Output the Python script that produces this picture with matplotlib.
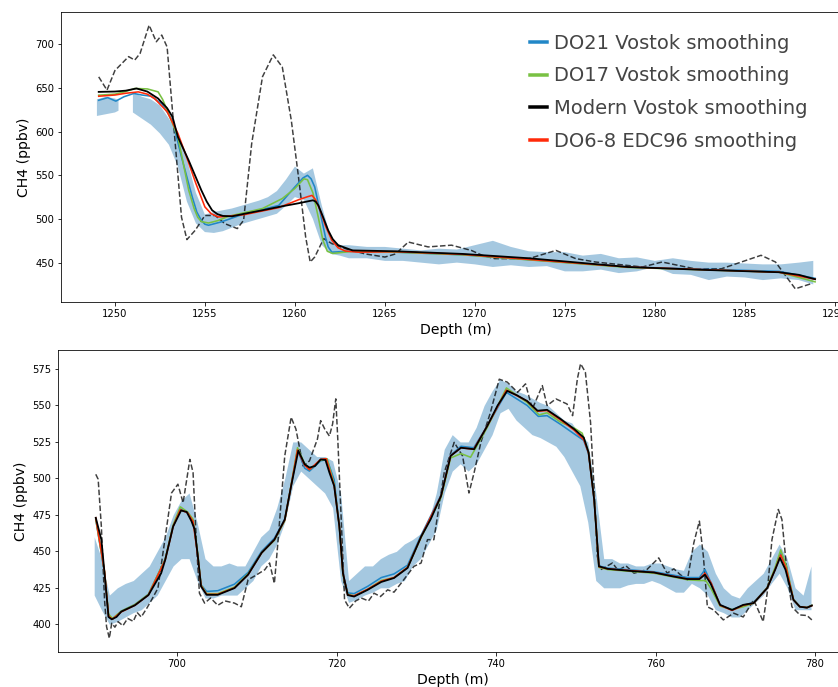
import numpy as np
import matplotlib.pyplot as plt

# ---------------- top panel (deep section) ----------------
top_raw_d = [1249.0, 1249.5, 1250.0, 1250.2, 1250.5, 1251.0, 1251.5, 1252.0, 1252.5, 1253.0,
             1253.5, 1254.0, 1254.5, 1255.0, 1255.5, 1256.0, 1256.5, 1257.0, 1257.5, 1258.0,
             1258.5, 1259.0, 1259.5, 1260.0, 1260.5, 1261.0, 1261.5, 1262.0, 1262.5, 1263.0,
             1264.0, 1265.0, 1266.0, 1267.0, 1268.0, 1269.0, 1270.0, 1271.0, 1272.0, 1273.0,
             1274.0, 1275.0, 1276.0, 1277.0, 1278.0, 1279.0, 1280.0, 1281.0, 1282.0, 1283.0,
             1284.0, 1285.0, 1286.0, 1287.0, 1288.0, 1288.8]
top_raw_lo = [618, 620, 622, 624, np.nan, 622, 615, 608, 598, 585,
              560, 520, 495, 485, 484, 486, 490, 494, 497, 500,
              503, 506, 515, 525, 522, 500, 470, 460, 458, 455,
              455, 452, 452, 450, 448, 450, 448, 445, 447, 445,
              446, 440, 440, 442, 438, 440, 445, 437, 436, 430,
              434, 433, 430, 432, 430, 425]
top_raw_hi = [637, 640, 638, 636, np.nan, 645, 640, 637, 630, 615,
              598, 568, 530, 505, 508, 510, 512, 515, 518, 521,
              525, 532, 545, 560, 552, 558, 515, 478, 470, 470,
              468, 468, 466, 464, 466, 465, 470, 475, 468, 463,
              462, 462, 458, 460, 455, 456, 452, 455, 452, 450,
              450, 449, 448, 448, 450, 452]

top_dash_d = [1249.1, 1249.56, 1250.0, 1250.76, 1251.1, 1251.4, 1251.9, 1252.3, 1252.6, 1252.9,
              1253.35, 1253.7, 1254.0, 1254.46, 1255.0, 1255.57, 1256.1, 1256.8, 1257.15, 1257.6,
              1258.2, 1258.8, 1259.3, 1259.8, 1260.2, 1260.6, 1260.85, 1261.1, 1261.6, 1262.05,
              1262.8, 1263.9, 1265.0, 1265.6, 1266.3, 1267.4, 1268.7, 1269.8, 1270.4, 1271.1,
              1273.0, 1274.5, 1275.6, 1276.7, 1279.3, 1280.4, 1282.2, 1283.7, 1285.9, 1286.7,
              1287.8, 1288.7]
top_dash_v = [662.8, 647.6, 670, 686, 682, 689.7, 722, 703, 710.7, 697,
              586.8, 502, 476.4, 487, 504, 504, 494.7, 489, 498.5, 586.5,
              663, 688, 674, 613, 548, 479, 450.7, 456.4, 477.5, 471.8,
              466, 460, 456.4, 460, 473.6, 468, 470, 464, 458.4, 454.6,
              454.6, 464, 454.6, 450.7, 445, 450.7, 443, 443, 458.4, 450.7,
              420, 426]

top_blue_d = [1249.1, 1249.6, 1250.05, 1250.5, 1251.05, 1251.5, 1252.0, 1252.6, 1253.2, 1253.7,
              1254.3, 1254.55, 1254.8, 1255.0, 1255.2, 1255.9, 1257.2, 1259.1, 1260.0, 1260.45,
              1260.7, 1260.9, 1261.1, 1261.4, 1261.7, 1261.85, 1262.05, 1263.0, 1265.6, 1269.3,
              1278.5, 1286.9, 1288.9]
top_blue_v = [636, 639, 635, 640, 643.8, 642, 640.7, 632, 613, 571,
              525, 508, 498.5, 494, 492.8, 496.6, 506, 515.5, 536.7, 547,
              550, 546, 536.7, 508, 479, 468, 462, 463, 462, 459,
              445, 440, 432]

top_green_d = [1249.1, 1250.0, 1250.6, 1251.1, 1251.8, 1252.4, 1252.65, 1252.9, 1253.5, 1254.1,
               1254.4, 1254.6, 1254.8, 1255.2, 1255.7, 1256.3, 1258.2, 1259.3, 1260.0, 1260.5,
               1260.7, 1261.0, 1261.3, 1261.55, 1261.8, 1262.1, 1263.2, 1265.6, 1269.3, 1278.5,
               1286.9, 1288.9]
top_green_v = [641.8, 643, 646, 649.5, 649, 645.6, 637, 624.7, 594, 533,
               512, 502, 497, 495.4, 498, 503, 512, 523.4, 535, 546,
               545, 530, 502, 476, 463, 460.5, 463, 462, 459, 444.5,
               439, 428]

top_red_d = [1249.1, 1250.0, 1250.6, 1251.3, 1251.8, 1252.2, 1252.9, 1253.5, 1254.0, 1254.5,
             1255.0, 1255.35, 1255.75, 1257.2, 1259.1, 1260.2, 1260.7, 1260.95, 1261.15, 1261.4,
             1261.7, 1262.05, 1262.4, 1262.8, 1263.5, 1265.6, 1269.3, 1278.5, 1286.9, 1288.9]
top_red_v = [640.6, 642, 644, 645.6, 643, 638, 623, 598, 570, 540.6,
             513.8, 506, 502.3, 505, 513, 522, 525.5, 527, 522, 510,
             492, 475.6, 467, 463.3, 462, 462.5, 459.5, 445, 439, 431]

top_black_d = [1249.1, 1250.0, 1250.6, 1251.2, 1251.8, 1252.4, 1252.9, 1253.2, 1253.5, 1254.1,
               1254.8, 1255.1, 1255.4, 1255.7, 1256.0, 1256.5, 1257.2, 1258.2, 1259.1, 1260.2,
               1261.0, 1261.15, 1261.3, 1261.55, 1261.85, 1262.1, 1262.4, 1263.2, 1265.6, 1269.3,
               1273.0, 1278.5, 1283.0, 1286.9, 1288.0, 1288.9]
top_black_v = [645.6, 646, 647, 649.5, 646, 638, 627, 617, 594, 567,
               533, 520, 510, 505.5, 503.5, 503, 506, 510, 513.8, 518,
               521.4, 520, 515.7, 503, 487, 477, 470, 464, 463, 460,
               455, 445, 441.5, 439, 436, 431]

# ---------------- bottom panel (shallow section) ----------------
bot_raw_d = [689.6, 690.5, 691.5, 692.5, 693.5, 694.5, 695.5, 696.5, 697.5, 698.5,
             699.5, 700.5, 701.5, 702.5, 703.5, 704.5, 705.5, 706.5, 707.5, 708.5,
             709.5, 710.5, 711.5, 712.5, 713.5, 714.5, 715.5, 716.5, 717.5, 718.5,
             719.5, 720.5, 721.5, 722.5, 723.5, 724.5, 725.5, 726.5, 727.5, 728.5,
             729.5, 730.5, 731.5, 732.5, 733.5, 734.5, 735.5, 736.5, 737.5, 738.5,
             739.5, 740.5, 741.5, 742.5, 743.5, 744.5, 745.5, 746.5, 747.5, 748.5,
             749.5, 750.5, 751.5, 752.5, 753.5, 754.5, 755.5, 756.5, 757.5, 758.5,
             759.5, 760.5, 761.5, 762.5, 763.5, 764.5, 765.5, 766.5, 767.5, 768.5,
             769.5, 770.5, 771.5, 772.5, 773.5, 774.5, 775.5, 776.5, 777.5, 778.5,
             779.5]
bot_raw_lo = [420, 410, 400, 402, 405, 408, 410, 415, 420, 430,
              440, 445, 445, 430, 418, 418, 420, 420, 420, 425,
              430, 440, 445, 455, 470, 495, 505, 500, 495, 490,
              480, 430, 415, 417, 420, 422, 425, 425, 428, 430,
              440, 445, 455, 465, 490, 505, 510, 505, 510, 520,
              530, 545, 548, 540, 535, 530, 528, 525, 522, 515,
              505, 495, 470, 430, 425, 425, 425, 427, 428, 428,
              430, 428, 425, 422, 422, 428, 425, 420, 410, 408,
              405, 405, 410, 415, 420, 428, 435, 425, 410, 410,
              410]
bot_raw_hi = [460, 445, 420, 425, 428, 430, 435, 440, 450, 460,
              475, 485, 490, 470, 445, 440, 440, 442, 440, 440,
              450, 460, 465, 480, 500, 525, 525, 520, 515, 515,
              512, 490, 430, 435, 440, 440, 445, 448, 450, 455,
              458, 462, 470, 490, 520, 530, 525, 525, 535, 550,
              560, 568, 565, 560, 558, 555, 552, 550, 545, 540,
              538, 530, 525, 490, 445, 445, 442, 442, 440, 440,
              442, 442, 440, 438, 437, 450, 455, 450, 435, 425,
              420, 418, 425, 430, 435, 445, 455, 445, 425, 420,
              440]

bot_dash_d = [689.8, 690.1, 690.5, 690.9, 691.15, 691.5, 691.8, 692.2, 692.6, 693.2,
              693.8, 694.5, 695.0, 695.5, 696.2, 696.8, 697.6, 698.7, 699.3, 700.1,
              700.75, 701.6, 702.0, 702.4, 702.8, 703.45, 704.2, 705.1, 706.0, 707.2,
              708.05, 708.9, 710.0, 711.0, 711.6, 712.2, 712.6, 713.5, 714.3, 714.9,
              715.8, 716.6, 717.6, 718.0, 718.5, 719.1, 719.5, 719.9, 720.15, 720.6,
              721.0, 721.6, 722.4, 723.1, 724.0, 724.7, 725.5, 726.4, 727.2, 728.1,
              729.7, 730.6, 731.4, 732.2, 733.5, 734.75, 735.8, 736.6, 737.25, 738.1,
              739.3, 740.4, 741.4, 742.7, 743.7, 744.55, 745.8, 746.4, 747.5, 748.9,
              749.6, 750.2, 750.6, 751.2, 751.85, 752.3, 752.7, 753.1, 754.6, 755.3,
              756.3, 757.3, 758.9, 760.4, 761.45, 762.3, 763.1, 764.0, 764.8, 765.5,
              766.0, 766.5, 767.3, 768.5, 769.8, 771.0, 772.3, 772.7, 773.5, 774.0,
              774.6, 775.4, 775.85, 776.5, 777.1, 778.1, 779.0, 779.6]
bot_dash_v = [502.8, 499.4, 467, 416.7, 398.4, 390.4, 400.7, 398, 401.8, 399,
              404, 402, 408, 405, 411, 416.7, 424.8, 467, 490, 496,
              483.3, 513, 504, 458, 421.3, 414.5, 418, 413, 416, 414.5,
              412, 430.5, 434, 437.4, 442, 428, 453.4, 515.4, 541.9, 533.8,
              508.5, 512, 527, 539.6, 534, 529, 537.3, 554.5, 527, 469.6,
              416.7, 411, 416, 418, 416, 421.3, 419, 423.6, 422, 428.2,
              439.7, 442, 458, 458, 504, 524.7, 515.4, 490, 504, 524.7,
              545.3, 568, 566, 559, 564.8, 547.6, 563.6, 549.9, 554.5, 551,
              543, 568.3, 578.6, 572.8, 538.4, 492.5, 446.6, 437.4, 442, 437,
              440, 435, 437.4, 445.5, 435, 438, 434, 430.5, 455.8, 470.7,
              446.6, 412, 409.8, 403, 407.6, 405, 416.7, 412, 401.8, 421.3,
              458, 478.7, 471.8, 435, 412, 406.4, 406, 403]

bot_blue_d = [689.8, 690.9, 691.4, 691.9, 693.0, 694.7, 696.4, 698.5, 699.5, 700.4,
              701.3, 702.0, 702.6, 703.0, 703.7, 705.1, 707.2, 708.9, 710.6, 712.2,
              713.5, 714.3, 715.1, 716.0, 716.6, 718.0, 718.8, 719.7, 720.35, 720.8,
              721.4, 722.2, 723.9, 725.6, 727.2, 728.9, 730.6, 733.1, 734.3, 735.6,
              737.2, 738.9, 741.3, 743.9, 745.3, 746.4, 748.1, 749.8, 751.0, 751.6,
              752.3, 752.9, 754.0, 759.8, 764.0, 765.5, 766.2, 767.0, 768.1, 769.6,
              771.0, 772.3, 774.0, 775.0, 775.7, 776.4, 777.3, 778.1, 779.0, 779.6]
bot_blue_v = [472, 435, 405, 403.5, 409, 413.5, 420.5, 444.5, 467.5, 479,
              477, 471, 447, 427, 422.5, 423, 427.5, 435.5, 450, 459,
              472, 495, 519.5, 507, 505, 512, 513, 499, 467, 435,
              421.5, 421, 426, 432, 434.5, 440.5, 461, 488.5, 516, 522,
              521, 536, 559, 550, 542.5, 543, 537, 530.5, 526, 517,
              485.5, 440, 438.5, 436, 432, 432, 437.5, 428, 413, 410,
              413, 415, 425, 438, 449, 439, 417, 412, 411.5, 413]

bot_green_d = [689.8, 690.9, 691.4, 691.9, 693.0, 694.7, 696.4, 698.5, 699.5, 700.4,
               701.3, 702.0, 702.6, 703.0, 703.7, 705.1, 707.2, 708.9, 710.6, 712.2,
               713.5, 714.3, 715.1, 716.0, 716.6, 718.0, 718.8, 719.7, 720.35, 720.8,
               721.4, 722.2, 723.9, 725.6, 727.2, 728.9, 730.6, 733.1, 734.3, 735.6,
               736.8, 738.9, 741.3, 743.9, 745.4, 746.4, 748.1, 749.8, 750.8, 751.6,
               752.3, 752.9, 754.0, 759.8, 764.0, 765.5, 766.3, 767.0, 768.1, 769.6,
               771.0, 772.3, 774.0, 775.0, 775.7, 776.4, 777.3, 778.1, 779.0, 779.6]
bot_green_v = [472, 436, 407, 404, 409, 413.5, 420.5, 444.5, 468, 480.5,
               477, 472, 448, 427, 421, 421, 425.5, 434.5, 449, 457.5,
               471, 495.5, 521, 510, 506, 512.5, 513.5, 496, 467, 434,
               420.5, 419.5, 424, 430, 432, 439, 459.5, 487, 514, 517,
               514.5, 535, 562, 552, 543.5, 545, 538.5, 534.5, 531, 518,
               486, 439, 437.5, 435, 430.5, 430, 430, 424, 412.5, 410,
               412, 414.5, 425, 439, 451, 440, 417, 412, 411.5, 413]

bot_red_d = [689.8, 690.9, 691.4, 691.9, 693.0, 694.7, 696.4, 698.5, 699.5, 700.4,
             701.3, 702.0, 702.6, 703.0, 703.7, 705.1, 707.2, 708.9, 710.6, 712.2,
             713.5, 714.3, 715.1, 716.0, 716.6, 718.0, 718.7, 719.7, 720.35, 720.8,
             721.4, 722.2, 723.9, 725.6, 727.2, 728.9, 730.6, 733.1, 734.3, 735.6,
             737.2, 738.9, 741.3, 743.9, 745.2, 746.4, 748.1, 749.8, 751.0, 751.6,
             752.3, 752.9, 754.0, 759.8, 764.0, 765.5, 766.2, 767.0, 768.1, 769.6,
             771.0, 772.3, 774.0, 775.0, 775.7, 776.4, 777.3, 778.1, 779.0, 779.6]
bot_red_v = [473, 436, 405.5, 403.5, 408.5, 413, 420, 444, 467, 478.5,
             476.5, 470.5, 446.5, 426.5, 420.5, 420.5, 425, 434, 449, 458,
             471.5, 495, 519.5, 509, 506, 513, 513.5, 495, 467, 435,
             420, 419.5, 424, 429.5, 432, 439, 460, 488, 515.5, 521,
             520, 536, 560.5, 553, 546, 546.5, 540, 533, 526.5, 517.5,
             485.5, 439.5, 438, 435.5, 431, 431, 435, 428, 413, 409.5,
             413, 414.5, 424.8, 437.5, 447.5, 438, 416.7, 412, 411.4, 412.8]

bot_black_d = [689.8, 690.5, 690.9, 691.4, 691.8, 692.4, 693.0, 694.7, 696.4, 698.0,
               698.5, 699.5, 700.5, 701.2, 701.8, 702.2, 702.6, 703.0, 703.7, 705.1,
               707.2, 708.9, 710.6, 712.2, 713.5, 714.3, 715.2, 716.0, 716.6, 717.3,
               718.0, 718.6, 719.1, 719.7, 720.35, 720.8, 721.4, 722.2, 723.9, 725.6,
               727.2, 728.9, 730.6, 731.8, 733.1, 734.3, 735.6, 737.25, 738.9, 740.2,
               741.4, 742.6, 743.9, 745.2, 746.4, 748.1, 749.8, 751.0, 751.6, 752.3,
               752.9, 754.0, 757.0, 759.8, 762.0, 764.0, 765.5, 766.2, 766.9, 768.1,
               769.6, 771.0, 772.3, 774.0, 775.0, 775.6, 776.3, 777.3, 778.1, 779.0,
               779.6]
bot_black_v = [473, 458, 435, 405, 403.4, 405, 408.7, 413, 420, 435,
               444, 467, 478, 477, 470.7, 465, 446.6, 426, 420.2, 420.2,
               424.8, 434, 449, 458, 471.8, 494.8, 519, 509.7, 507.4, 508.5,
               513, 512.7, 504, 494.8, 467, 435, 420, 419, 423.6, 429,
               431.7, 438.6, 460, 472, 488, 515.4, 521, 520, 536, 550,
               560, 557, 553, 546.4, 547, 540.7, 533.8, 528, 517.8, 485.6,
               439.7, 438, 436.5, 435.5, 433, 431, 431, 434, 428, 413.3,
               409.8, 413.3, 414.5, 424.8, 437.4, 445.5, 437.4, 416.7, 412, 411.4,
               412.8]

labels = ['DO21 Vostok smoothing', 'DO17 Vostok smoothing',
          'Modern Vostok smoothing', 'DO6-8 EDC96 smoothing']
c_blue, c_green, c_black, c_red = '#2187c7', '#79c143', 'black', '#ff2a0a'
c_raw = '#8fbbd9'

fig = plt.figure(figsize=(838 / 72, 687 / 72), dpi=72)
ax1 = fig.add_axes([61 / 838, 1 - 302 / 687, 790 / 838, 290 / 687])
ax2 = fig.add_axes([58.3 / 838, 1 - 652 / 687, 789.4 / 838, 302 / 687])


def draw(ax, raw, dash, blue, green, red, black):
    ax.fill_between(raw[0], raw[1], raw[2], color=c_raw, alpha=0.8, lw=0, zorder=1)
    ax.plot(dash[0], dash[1], '--', color='black', alpha=0.75, lw=1.5, zorder=2)
    h1, = ax.plot(blue[0], blue[1], color=c_blue, lw=1.6, zorder=3)
    h2, = ax.plot(green[0], green[1], color=c_green, lw=1.6, zorder=3)
    h4, = ax.plot(red[0], red[1], color=c_red, lw=1.6, zorder=3)
    h3, = ax.plot(black[0], black[1], color=c_black, lw=1.8, zorder=4)
    ax.set_xlabel('Depth (m)', fontsize=14)
    ax.set_ylabel('CH4 (ppbv)', fontsize=14)
    ax.tick_params(labelsize=10)
    return [h1, h2, h3, h4]


handles = draw(ax1, (top_raw_d, top_raw_lo, top_raw_hi), (top_dash_d, top_dash_v),
               (top_blue_d, top_blue_v), (top_green_d, top_green_v),
               (top_red_d, top_red_v), (top_black_d, top_black_v))
draw(ax2, (bot_raw_d, bot_raw_lo, bot_raw_hi), (bot_dash_d, bot_dash_v),
     (bot_blue_d, bot_blue_v), (bot_green_d, bot_green_v),
     (bot_red_d, bot_red_v), (bot_black_d, bot_black_v))

ax1.set_xticks([1250, 1255, 1260, 1265, 1270, 1275, 1280, 1285, 1290])
ax1.set_yticks([450, 500, 550, 600, 650, 700])
ax2.set_xticks([700, 720, 740, 760, 780])
ax2.set_yticks([400, 425, 450, 475, 500, 525, 550, 575])

leg = ax1.legend(handles, labels, loc='upper left', bbox_to_anchor=(0.584, 0.952),
                 borderaxespad=0, frameon=False, fontsize=19.5, handlelength=0.85,
                 handletextpad=0.35, labelspacing=0.7, labelcolor='#444444')
for line in leg.get_lines():
    line.set_linewidth(3.5)

fig.savefig('out.png', dpi=72)
